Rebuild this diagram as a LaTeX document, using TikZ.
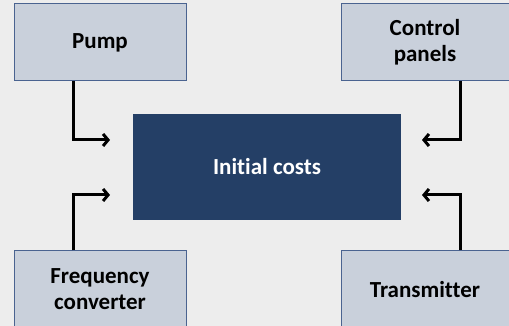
\documentclass[tikz,border=0pt]{standalone}
\usepackage{fontspec}
\setmainfont{Carlito}[Ligatures=NoCommon]
\usetikzlibrary{arrows.meta}
\definecolor{pagegray}{HTML}{EDEDED}
\definecolor{boxfill}{HTML}{C9D0DB}
\definecolor{boxedge}{HTML}{4A6390}
\definecolor{costfill}{HTML}{243F66}
\begin{document}
\begin{tikzpicture}[x=1pt, y=1pt,
    part/.style={draw=boxedge, line width=1pt, fill=boxfill, minimum height=77pt,
        align=center, inner sep=0pt, font=\bfseries\fontsize{23}{26}\selectfont},
    feed/.style={line width=3pt, -{Straight Barb[length=5pt, width=12pt]}}]
    \fill[pagegray] (0, 0) rectangle (509, 326);
    \useasboundingbox (0, 0) rectangle (509, 326);
    \node[fill=costfill, minimum width=268pt, minimum height=106pt, text=white,
        font=\bfseries\fontsize{23}{26}\selectfont] (cost) at (267, 159) {Initial costs};
    \node[part, minimum width=172pt] (pump) at (100, 283.5) {Pump};
    \node[part, minimum width=168pt] (panel) at (425, 283.5) {Control\\panels};
    \node[part, minimum width=172pt] (conv) at (100, 36.5) {Frequency\\converter};
    \node[part, minimum width=168pt] (trans) at (425, 36.5) {Transmitter};
    \coordinate (pumpend) at (110, 186);
    \coordinate (panelend) at (422, 186);
    \coordinate (convend) at (110, 131);
    \coordinate (transend) at (422, 131);
    \draw[feed] ([xshift=-27pt]pump.south) |- (pumpend);
    \draw[feed] ([xshift=35pt]panel.south) |- (panelend);
    \draw[feed] ([xshift=-27pt]conv.north) |- (convend);
    \draw[feed] ([xshift=35pt]trans.north) |- (transend);
\end{tikzpicture}
\end{document}
